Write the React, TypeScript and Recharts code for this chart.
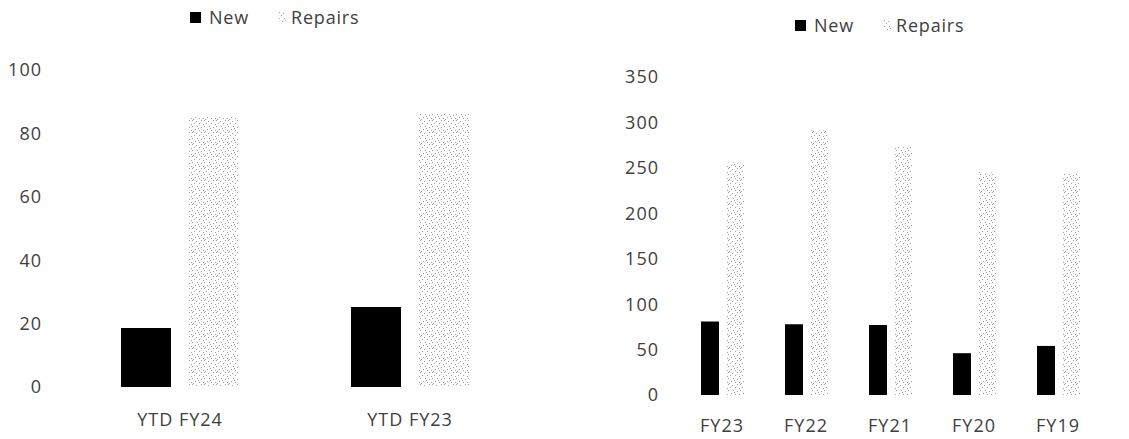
import React from "react";
import { BarChart, Bar, XAxis, YAxis } from "recharts";

// year-to-date comparison
const ytdCategories = ["YTD FY24", "YTD FY23"];
const ytdNew = [18.6, 25.2];
const ytdRepairs = [85.2, 86.4];
const ytdTicks = [0, 20, 40, 60, 80, 100];

// full fiscal years
const fyCategories = ["FY23", "FY22", "FY21", "FY20", "FY19"];
const fyNew = [81, 78, 77, 46, 54];
const fyRepairs = [256, 291, 274, 245, 244];
const fyTicks = [0, 50, 100, 150, 200, 250, 300, 350];

const ytdData = ytdCategories.map((name, i) => ({
  name,
  New: ytdNew[i],
  Repairs: ytdRepairs[i],
}));

const fyData = fyCategories.map((name, i) => ({
  name,
  New: fyNew[i],
  Repairs: fyRepairs[i],
}));

const FONT = "'Open Sans', sans-serif";
const TEXT = "#404040";

function DotPattern({ id }: { id: string }) {
  // speckled grey fill used for the repairs series
  const dots = [
    [0, 0], [4, 1], [9, 0], [2, 3], [7, 3], [11, 4], [0, 6], [5, 6],
    [9, 7], [3, 9], [7, 10], [11, 10], [1, 11], [6, 8],
  ];
  return (
    <pattern id={id} width={12} height={12} patternUnits="userSpaceOnUse">
      {dots.map(([x, y], i) => (
        <rect key={i} x={x} y={y} width={1} height={1} fill="#a0a0a0" />
      ))}
    </pattern>
  );
}

function LegendRow({ patternId, left, top }: { patternId: string; left: number; top: number }) {
  return (
    <div
      style={{
        position: "absolute",
        left,
        top,
        display: "flex",
        alignItems: "center",
        fontFamily: FONT,
        fontSize: 18,
        color: TEXT,
        letterSpacing: 0.8,
        whiteSpace: "nowrap",
      }}
    >
      <svg width={11} height={11} style={{ marginRight: 8 }}>
        <rect width={11} height={11} fill="#000" />
      </svg>
      <span>New</span>
      <svg width={7} height={10} style={{ marginLeft: 30, marginRight: 5 }}>
        <defs>
          <DotPattern id={patternId + "-leg"} />
        </defs>
        <rect width={7} height={10} fill={`url(#${patternId}-leg)`} />
      </svg>
      <span>Repairs</span>
    </div>
  );
}

const tickStyle = { fill: TEXT, fontSize: 18, fontFamily: FONT, letterSpacing: 1 };

export default function App() {
  return (
    <div
      style={{
        position: "fixed",
        left: 0,
        top: 0,
        width: 1129,
        height: 439,
        overflow: "hidden",
        background: "#fff",
      }}
    >
      <LegendRow patternId="ytdDots" left={190} top={5} />
      <div style={{ position: "absolute", left: 0, top: 0 }}>
        <BarChart
          width={540}
          height={439}
          data={ytdData}
          margin={{ top: 70, right: 15, left: 0, bottom: 22 }}
          barSize={50}
          barGap={18}
        >
          <defs>
            <DotPattern id="ytdDots" />
          </defs>
          <XAxis
            dataKey="name"
            axisLine={false}
            tickLine={false}
            tickSize={0}
            tickMargin={26}
            height={30}
            tick={tickStyle}
          />
          <YAxis
            domain={[0, 100]}
            ticks={ytdTicks}
            axisLine={false}
            tickLine={false}
            tickSize={0}
            tickMargin={23}
            width={65}
            tick={tickStyle}
          />
          <Bar dataKey="New" fill="#000" isAnimationActive={false} />
          <Bar dataKey="Repairs" fill="url(#ytdDots)" isAnimationActive={false} />
        </BarChart>
      </div>
      <LegendRow patternId="fyDots" left={795} top={13} />
      <div style={{ position: "absolute", left: 560, top: 0 }}>
        <BarChart
          width={569}
          height={439}
          data={fyData}
          margin={{ top: 77, right: 29, left: 0, bottom: 14 }}
          barSize={18}
          barGap={7}
        >
          <defs>
            <DotPattern id="fyDots" />
          </defs>
          <XAxis
            dataKey="name"
            axisLine={false}
            tickLine={false}
            tickSize={0}
            tickMargin={24}
            height={30}
            tick={tickStyle}
          />
          <YAxis
            domain={[0, 350]}
            ticks={fyTicks}
            axisLine={false}
            tickLine={false}
            tickSize={0}
            tickMargin={21}
            width={120}
            tick={tickStyle}
          />
          <Bar dataKey="New" fill="#000" isAnimationActive={false} />
          <Bar dataKey="Repairs" fill="url(#fyDots)" isAnimationActive={false} />
        </BarChart>
      </div>
    </div>
  );
}
